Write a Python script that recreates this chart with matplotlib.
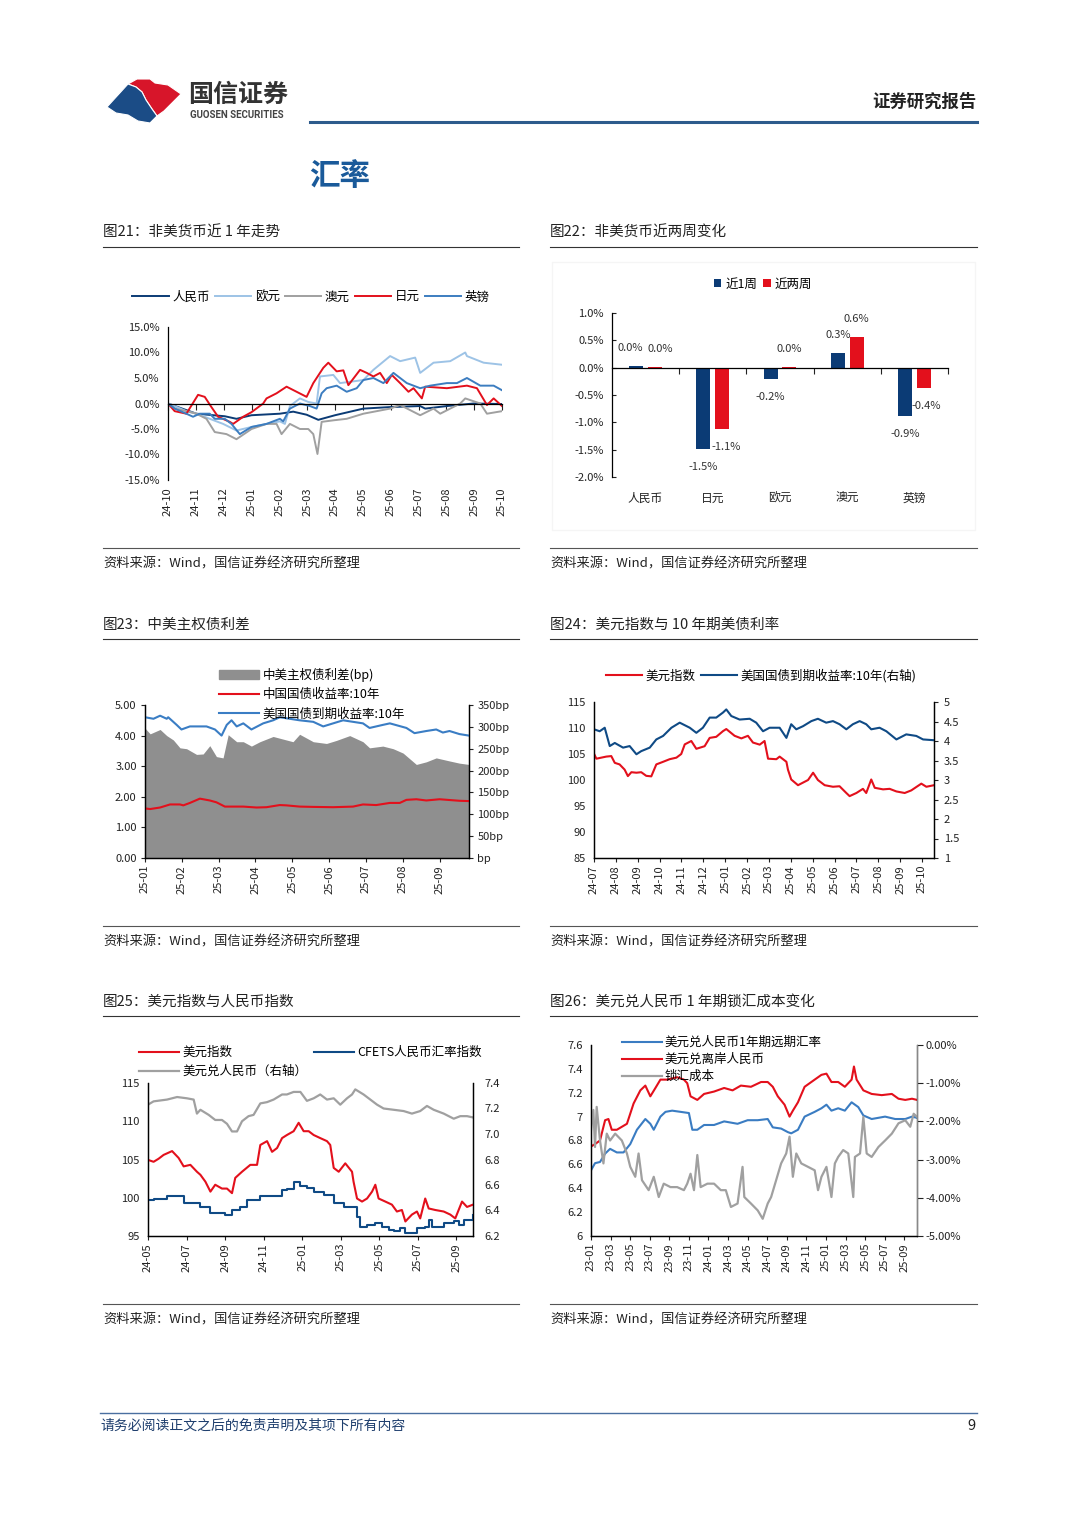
import numpy as np
import matplotlib
matplotlib.use('Agg')
import matplotlib.pyplot as plt
from matplotlib.patches import Polygon, Rectangle, Patch
from matplotlib.lines import Line2D

plt.rcParams['font.family'] = ['Noto Sans CJK SC', 'DejaVu Sans']
plt.rcParams['axes.unicode_minus'] = False
plt.rcParams['axes.linewidth'] = 0.9
plt.rcParams['xtick.color'] = '#222222'
plt.rcParams['ytick.color'] = '#222222'

W, H = 1080, 1527
NAVY = '#0b3b75'
LBLUE = '#9dc3e6'
GRAY = '#a0a0a0'
RED = '#e3101c'
MBLUE = '#3c7dc0'
TXT = '#222222'

# ---------------- data ----------------
# chart 21: non-USD currencies, % change, x = months since 2024-10
c21_ticks = ['24-10', '24-11', '24-12', '25-01', '25-02', '25-03', '25-04',
             '25-05', '25-06', '25-07', '25-08', '25-09', '25-10']
cny_t = [0, 1.02, 2.04, 2.46, 3.0, 4.02, 4.5, 4.98, 5.4, 6.0, 7.02, 7.98, 9.06, 9.24, 9.4, 10.02, 10.98, 12]
cny_v = [0, -2.0, -2.5, -3.0, -2.3, -2.0, -1.6, -2.2, -3.2, -2.3, -1.0, -0.7, -0.5, -1.0, -0.9, -0.5, 0.0, -0.1]
eur_t = [0, 0.24, 0.66, 1.02, 1.5, 1.98, 2.46, 3.0, 3.54, 4.02, 4.2, 4.38, 4.74, 5.04, 5.34, 5.46, 5.94,
         6.18, 7.02, 7.38, 7.98, 8.34, 8.88, 9.06, 9.54, 10.14, 10.68, 10.74, 11.34, 12]
eur_v = [0, -0.5, -1.5, -2.0, -3.0, -4.0, -5.3, -4.6, -4.0, -3.5, -4.0, -0.5, 1.0, 0.3, 0.0, 5.3, 5.6,
         4.0, 4.6, 6.6, 9.3, 8.3, 9.0, 6.0, 8.0, 8.3, 10.0, 9.3, 8.0, 7.6]
aud_t = [0, 0.24, 0.66, 1.02, 1.38, 1.68, 2.1, 2.46, 3.0, 3.54, 3.9, 4.08, 4.38, 4.74, 5.04, 5.22, 5.37,
         5.52, 5.94, 6.42, 7.02, 7.98, 8.34, 9.06, 9.54, 9.78, 10.5, 10.68, 11.22, 11.46, 12]
aud_v = [0, -1.0, -1.5, -2.0, -3.0, -5.6, -6.0, -7.0, -5.0, -4.0, -4.0, -6.0, -4.0, -5.0, -5.0, -6.0, -9.9,
         -3.6, -3.3, -3.0, -2.0, -1.0, -0.3, -2.3, -1.0, -2.0, 0.0, 1.0, 0.0, -2.0, -1.5]
jpy_t = [0, 0.24, 0.66, 1.08, 1.32, 1.56, 1.8, 2.22, 2.34, 2.7, 3.0, 3.42, 3.54, 3.9, 4.26, 4.62, 4.98,
         5.22, 5.58, 5.76, 6.06, 6.3, 6.48, 6.9, 7.14, 7.38, 7.62, 7.86, 8.04, 8.34, 8.64, 8.82, 9.12,
         9.24, 10.02, 10.74, 11.1, 11.46, 11.7, 12]
jpy_v = [0, -1.5, -2.0, 1.7, 1.3, -0.7, -2.6, -3.6, -4.0, -2.6, -1.7, 0.0, 1.0, 2.0, 3.3, 2.3, 1.3,
         4.0, 7.0, 8.0, 6.3, 6.5, 3.6, 6.6, 6.0, 5.3, 6.0, 4.0, 5.6, 4.0, 2.3, 3.0, 1.0,
         3.3, 3.0, 3.5, 3.0, -0.3, 1.0, -0.5]
gbp_t = [0, 0.24, 0.66, 0.9, 1.14, 1.5, 1.68, 2.04, 2.28, 2.58, 3.0, 3.54, 4.02, 4.14, 4.38, 4.74, 5.1,
         5.34, 5.52, 5.7, 6.06, 6.42, 6.78, 7.02, 7.38, 7.74, 8.1, 8.58, 9.06, 9.42, 10.02, 10.38,
         10.74, 11.22, 11.7, 12]
gbp_v = [0, -1.0, -2.0, -2.6, -2.0, -2.0, -3.0, -3.0, -4.0, -6.0, -4.6, -4.0, -3.0, -3.5, -1.0, 0.0, -0.5,
         -1.0, 2.0, 3.0, 3.5, 2.3, 3.0, 4.6, 5.0, 4.0, 6.0, 4.0, 3.0, 3.5, 4.0, 4.0,
         5.0, 3.5, 3.5, 2.6]

# chart 22: two-week change
c22_cats = ['人民币', '日元', '欧元', '澳元', '英镑']
chg_1w = [0.03, -1.48, -0.21, 0.27, -0.88]
chg_2w = [0.005, -1.13, 0.01, 0.56, -0.37]
# horizontal nudge of the value labels (points), to mimic the crowded 人民币 pair
lab_dx_1w = [-4, 0, 0, 0, 0]
lab_dx_2w = [4, 3, 0, 0, 2]

# chart 23: China-US spread, x = months since 2025-01
c23_ticks = ['25-01', '25-02', '25-03', '25-04', '25-05', '25-06', '25-07', '25-08', '25-09']
us23_t = [0, 0.23, 0.41, 0.59, 0.63, 0.86, 0.99, 1.22, 1.67, 1.9, 2.08, 2.22, 2.35, 2.49, 2.67, 2.89,
          3.21, 3.48, 3.66, 3.93, 4.2, 4.57, 4.84, 5.11, 5.38, 5.65, 5.92, 6.1, 6.46, 6.65, 7.1, 7.32,
          7.64, 7.91, 8.09, 8.27, 8.54, 8.8]
us23_v = [4.6, 4.55, 4.65, 4.55, 4.6, 4.35, 4.2, 4.3, 4.3, 4.2, 4.0, 4.35, 4.5, 4.3, 4.4, 4.2,
          4.4, 4.5, 4.6, 4.55, 4.5, 4.45, 4.3, 4.4, 4.5, 4.45, 4.4, 4.25, 4.35, 4.4, 4.25, 4.08,
          4.15, 4.2, 4.1, 4.15, 4.05, 4.0]
cn23_t = [0, 0.14, 0.41, 0.68, 0.95, 1.04, 1.22, 1.49, 1.76, 1.94, 2.17, 2.67, 3.03, 3.3, 3.66, 3.84,
          4.2, 4.57, 5.11, 5.65, 5.92, 6.28, 6.65, 6.92, 7.1, 7.37, 7.64, 8.0, 8.54, 8.8]
cn23_v = [1.62, 1.6, 1.65, 1.75, 1.75, 1.72, 1.8, 1.94, 1.88, 1.82, 1.68, 1.68, 1.65, 1.66, 1.73, 1.72,
          1.68, 1.67, 1.66, 1.68, 1.75, 1.73, 1.8, 1.8, 1.9, 1.92, 1.88, 1.92, 1.87, 1.86]
spr_t = [0, 0.14, 0.41, 0.59, 0.77, 0.95, 1.13, 1.4, 1.58, 1.76, 1.94, 2.12, 2.26, 2.49, 2.67, 2.89,
         3.12, 3.48, 3.84, 4.02, 4.2, 4.57, 4.93, 5.2, 5.56, 5.92, 6.1, 6.46, 6.74, 7.01, 7.37, 7.64,
         7.91, 8.27, 8.54, 8.8]
spr_bp = [297, 284, 294, 280, 270, 252, 250, 237, 238, 257, 232, 229, 282, 266, 266, 256,
          266, 278, 270, 266, 283, 266, 262, 269, 280, 266, 252, 256, 250, 240, 214, 220,
          229, 222, 217, 214]

# chart 24: DXY and UST10Y, x = months since 2024-07
c24_ticks = ['24-07', '24-08', '24-09', '24-10', '24-11', '24-12', '25-01', '25-02', '25-03',
             '25-04', '25-05', '25-06', '25-07', '25-08', '25-09', '25-10']
dxy24_t = [0, 0.11, 0.56, 0.79, 0.95, 1.17, 1.40, 1.55, 1.71, 1.94, 2.16, 2.39, 2.62, 2.85, 3.16, 3.46,
           3.77, 3.99, 4.15, 4.45, 4.68, 5.06, 5.29, 5.59, 5.90, 6.05, 6.43, 6.74, 7.04, 7.27, 7.58,
           7.80, 7.96, 8.34, 8.49, 8.80, 8.87, 9.02, 9.33, 9.56, 9.79, 10.02, 10.24, 10.55, 10.93,
           11.23, 11.54, 11.69, 12.00, 12.30, 12.45, 12.68, 12.84, 13.22, 13.52, 13.83, 14.21,
           14.51, 14.97, 15.20, 15.55]
dxy24_v = [105.05, 104.1, 104.5, 104.6, 103.3, 103.0, 102.0, 100.75, 101.5, 101.4, 101.5, 100.8, 100.7,
           103.0, 103.5, 104.0, 104.3, 105.0, 106.85, 107.5, 106.0, 106.5, 108.1, 108.3, 109.4, 109.8,
           108.5, 108.0, 108.5, 107.2, 106.8, 107.5, 104.1, 104.0, 104.5, 103.5, 102.0, 100.1, 99.0,
           99.5, 100.0, 101.4, 100.0, 99.0, 98.7, 98.8, 97.5, 96.9, 97.5, 98.3, 97.5, 100.1, 98.5,
           98.2, 98.3, 97.8, 97.5, 98.0, 99.3, 98.7, 99.0]
ust24_t = [0, 0.26, 0.49, 0.72, 0.95, 1.33, 1.63, 1.94, 2.16, 2.55, 2.85, 3.16, 3.54, 3.92, 4.38, 4.68,
           4.98, 5.29, 5.59, 5.90, 6.05, 6.28, 6.66, 7.12, 7.42, 7.73, 8.03, 8.49, 8.80, 9.02, 9.25,
           9.56, 9.94, 10.24, 10.62, 10.93, 11.23, 11.54, 11.84, 12.15, 12.45, 12.68, 13.06, 13.37,
           13.83, 14.28, 14.74, 15.05, 15.55]
ust24_v = [4.3, 4.25, 4.34, 3.87, 3.95, 3.83, 3.87, 3.66, 3.74, 3.83, 4.04, 4.13, 4.34, 4.47, 4.34, 4.21,
           4.34, 4.6, 4.6, 4.73, 4.81, 4.64, 4.55, 4.57, 4.47, 4.25, 4.34, 4.34, 4.08, 4.43, 4.3,
           4.38, 4.51, 4.57, 4.47, 4.51, 4.43, 4.3, 4.43, 4.51, 4.43, 4.3, 4.34, 4.25,
           4.04, 4.17, 4.13, 4.04, 4.02]

# chart 25: DXY, CFETS, USDCNY, x = months since 2024-05
c25_ticks = ['24-05', '24-07', '24-09', '24-11', '25-01', '25-03', '25-05', '25-07', '25-09']
dxy25_t = [0, 0.29, 0.55, 0.81, 1.25, 1.59, 1.85, 2.20, 2.54, 2.72, 2.98, 3.24, 3.49, 3.84, 4.10, 4.36,
           4.53, 4.88, 5.31, 5.66, 5.83, 6.18, 6.44, 6.70, 6.96, 7.21, 7.56, 7.82, 8.08, 8.34, 8.60,
           8.94, 9.29, 9.46, 9.64, 9.90, 10.24, 10.59, 10.67, 10.85, 11.11, 11.37, 11.63, 11.80,
           11.97, 12.32, 12.66, 12.92, 13.18, 13.36, 13.70, 13.96, 14.13, 14.39, 14.57, 14.91,
           15.35, 15.69, 15.95, 16.30, 16.56, 16.87]
dxy25_v = [104.95, 104.7, 105.1, 105.6, 106.1, 105.2, 104.1, 104.3, 103.4, 103.0, 102.1, 100.8, 101.7,
           101.2, 101.2, 100.6, 102.6, 103.4, 104.3, 104.3, 106.9, 107.4, 106.0, 106.5, 107.8, 108.2,
           108.7, 109.8, 108.7, 108.7, 108.2, 107.8, 107.4, 106.9, 103.9, 103.4, 104.5, 103.4, 102.1,
           99.9, 99.5, 99.9, 100.8, 101.7, 99.9, 99.5, 99.1, 98.2, 98.4, 96.9, 97.8, 98.2, 97.3,
           99.9, 98.6, 98.4, 98.2, 97.8, 97.3, 99.5, 98.8, 99.1]
cfets_t = [0, 0.29, 0.64, 0.99, 1.51, 1.85, 2.37, 2.72, 3.24, 3.75, 4.01, 4.36, 4.79, 5.14, 5.66, 5.83,
           6.61, 6.96, 7.21, 7.56, 7.91, 8.25, 8.60, 9.12, 9.64, 10.16, 10.67, 10.85, 11.02, 11.37,
           11.80, 12.15, 12.49, 12.75, 13.10, 13.36, 13.70, 13.96, 14.39, 14.57, 14.74, 15.35,
           15.87, 16.12, 16.38, 16.87]
cfets_v = [99.7, 99.9, 99.9, 100.2, 100.2, 99.3, 99.3, 98.8, 98.0, 98.0, 97.75, 98.4, 98.8, 99.7, 99.7,
           100.2, 100.2, 101.0, 101.2, 102.1, 101.5, 101.3, 100.8, 100.4, 99.3, 98.8, 98.8, 97.5, 96.2,
           96.4, 96.7, 96.2, 95.8, 95.6, 96.0, 95.35, 95.35, 96.0, 96.2, 97.1, 96.2, 96.7,
           96.9, 96.4, 97.1, 97.75]
usdcny_t = [0, 0.29, 0.99, 1.51, 2.02, 2.37, 2.54, 2.72, 3.15, 3.49, 3.84, 4.10, 4.36, 4.62, 4.88, 5.22,
            5.48, 5.83, 6.18, 6.52, 6.96, 7.21, 7.56, 7.91, 8.25, 8.60, 8.94, 9.29, 9.64, 9.98, 10.33,
            10.59, 10.76, 11.19, 11.54, 11.89, 12.23, 12.75, 13.27, 13.70, 14.13, 14.48, 14.83,
            15.35, 15.87, 16.21, 16.56, 16.87]
usdcny_v = [7.23, 7.256, 7.27, 7.29, 7.28, 7.27, 7.16, 7.19, 7.15, 7.11, 7.11, 7.08, 7.02, 7.02, 7.10,
            7.14, 7.15, 7.24, 7.25, 7.27, 7.31, 7.31, 7.33, 7.33, 7.26, 7.28, 7.31, 7.27, 7.28, 7.23,
            7.28, 7.31, 7.35, 7.31, 7.27, 7.23, 7.20, 7.19, 7.18, 7.16, 7.18, 7.22, 7.19,
            7.16, 7.12, 7.14, 7.14, 7.13]

# chart 26: forward, CNH, hedging cost, x = months since 2023-01
c26_ticks = ['23-01', '23-03', '23-05', '23-07', '23-09', '23-11', '24-01', '24-03', '24-05',
             '24-07', '24-09', '24-11', '25-01', '25-03', '25-05', '25-07', '25-09']
fwd_t = [0, 0.41, 0.92, 1.44, 1.95, 2.64, 3.32, 4.01, 4.69, 5.55, 6.06, 6.41, 7.09, 7.61, 8.29, 9.15,
         10.0, 10.35, 10.86, 11.55, 12.57, 13.60, 14.97, 16.0, 17.03, 18.05, 18.57, 19.42, 20.11,
         20.45, 21.14, 21.82, 22.85, 23.54, 24.05, 24.56, 25.25, 25.93, 26.62, 27.30, 27.82, 28.67,
         30.04, 31.07, 32.10, 32.79, 33.30]
fwd_v = [6.55, 6.61, 6.62, 6.69, 6.73, 6.70, 6.70, 6.77, 6.89, 6.98, 6.94, 6.89, 7.0, 7.04, 7.05, 7.04,
         7.03, 6.89, 6.89, 6.93, 6.93, 6.96, 6.94, 6.97, 6.97, 6.98, 6.91, 6.90, 6.87,
         6.86, 6.89, 7.0, 7.04, 7.07, 7.10, 7.05, 7.07, 7.05, 7.12, 7.08, 7.01, 6.98,
         7.0, 6.98, 6.98, 7.0, 6.99]
cnh_t = [0, 0.41, 0.92, 1.44, 1.78, 2.12, 2.64, 3.67, 4.35, 5.04, 5.55, 6.06, 6.58, 7.09, 7.78, 8.80,
         9.49, 9.83, 10.17, 10.86, 11.55, 12.57, 13.60, 14.46, 15.31, 16.34, 17.37, 18.05, 18.57,
         19.08, 19.77, 20.28, 20.62, 21.14, 21.82, 22.85, 23.54, 24.05, 24.56, 25.25, 25.93, 26.62,
         26.86, 27.13, 27.82, 28.67, 29.70, 30.73, 31.41, 32.10, 32.79, 33.30]
cnh_v = [6.75, 6.77, 6.80, 6.97, 6.98, 6.89, 6.89, 6.94, 7.11, 7.22, 7.26, 7.17, 7.24, 7.31, 7.31, 7.33,
         7.31, 7.28, 7.17, 7.14, 7.19, 7.21, 7.24, 7.22, 7.26, 7.25, 7.29, 7.29, 7.25,
         7.17, 7.10, 7.0, 7.05, 7.12, 7.25, 7.31, 7.35, 7.36, 7.29, 7.29, 7.25, 7.31,
         7.42, 7.31, 7.22, 7.19, 7.18, 7.19, 7.15, 7.14, 7.15, 7.14]
cost_t = [0, 0.24, 0.41, 0.58, 0.92, 1.27, 1.61, 1.95, 2.47, 3.15, 3.67, 4.01, 4.52, 4.86, 5.21, 5.89,
          6.41, 6.92, 7.43, 8.12, 8.80, 9.49, 9.83, 10.17, 10.52, 10.86, 11.20, 11.89, 12.57, 13.26,
          13.77, 14.29, 14.97, 15.48, 15.66, 16.34, 17.03, 17.54, 18.05, 18.40, 18.91, 19.42, 19.94,
          20.28, 20.62, 20.97, 21.48, 22.17, 22.85, 23.19, 23.54, 24.05, 24.56, 24.91, 25.25, 25.76,
          26.28, 26.79, 26.96, 27.48, 27.82, 28.16, 28.67, 29.36, 30.04, 30.73, 31.41, 32.10, 32.61,
          32.96, 33.30]
cost_v = [-2.23, -1.7, -2.67, -1.62, -2.5, -3.1, -2.32, -2.5, -2.32, -2.5, -2.84, -3.19, -3.45, -2.84,
          -3.54, -3.8, -3.45, -3.98, -3.63, -3.72, -3.72, -3.8, -3.63, -3.37, -3.8, -2.88, -3.72, -3.63,
          -3.63, -3.8, -3.8, -4.24, -4.15, -3.19, -3.98, -4.15, -4.33, -4.55, -4.15, -3.98, -3.54, -3.1,
          -2.84, -2.4, -3.45, -2.84, -3.1, -3.19, -3.28, -3.8, -3.45, -3.19, -3.98, -3.1, -2.93, -2.75,
          -2.84, -3.98, -2.93, -2.84, -1.88, -2.84, -2.93, -2.67, -2.5, -2.32, -2.05, -1.97, -2.14,
          -1.8, -1.88]

# ---------------- page ----------------
fig = plt.figure(figsize=(W / 100, H / 100), dpi=100)


def px_axes(x0, y0, x1, y1):
    return fig.add_axes([x0 / W, 1 - y1 / H, (x1 - x0) / W, (y1 - y0) / H])


def ftext(x, y, s, **kw):
    fig.text(x / W, 1 - y / H, s, **kw)


def fline(x0, x1, y, **kw):
    fig.add_artist(Line2D([x0 / W, x1 / W], [1 - y / H, 1 - y / H], **kw))


def fpoly(pts, **kw):
    fig.add_artist(Polygon([(x / W, 1 - y / H) for x, y in pts], closed=True, **kw))


def legend_at(ax, handles, labels, x, y, loc, **kw):
    ax.legend(handles, labels, loc=loc, bbox_to_anchor=(x / W, 1 - y / H),
              bbox_transform=fig.transFigure, frameon=False, fontsize=9,
              borderpad=0, borderaxespad=0, **kw)


def month_labels(ax, ticks, step=1):
    ax.set_xticks(np.arange(len(ticks)) * step)
    ax.set_xticklabels(ticks, rotation=90, fontsize=8)
    ax.tick_params(axis='x', length=3, width=0.8, pad=2)


# logo
fpoly([(128, 84), (137, 79), (150, 79), (155, 83), (168, 85), (181, 94), (164, 111),
       (157, 116), (152, 109), (146, 100), (142, 92), (136, 87)], facecolor='#d7152a',
      edgecolor='white', linewidth=0.8)
fpoly([(107, 107), (128, 84), (136, 87), (142, 92), (146, 100), (152, 109), (157, 116),
       (150, 123), (138, 121), (128, 115), (116, 113)], facecolor='#1b4c86',
      edgecolor='white', linewidth=0.8)
ftext(188, 95, '国信证券', fontsize=18, fontweight='bold', color='#333333', va='center')
ftext(190, 115, 'GUOSEN SECURITIES', fontsize=7, fontweight='bold', color='#444444',
      va='center', family=['Roboto', 'DejaVu Sans'])
ftext(977, 102, '证券研究报告', fontsize=12.5, fontweight='bold', color='#222222',
      va='center', ha='right')
fline(310, 977, 122, color='#2d5b8c', linewidth=2.2)
ftext(309, 176, '汇率', fontsize=22, fontweight='bold', color='#1a5a9a', va='center')

# titles / sources
titles = [(103, 233, '图21：非美货币近 1 年走势'), (550, 233, '图22：非美货币近两周变化'),
          (103, 625, '图23：中美主权债利差'), (550, 625, '图24：美元指数与 10 年期美债利率'),
          (103, 1002, '图25：美元指数与人民币指数'), (550, 1002, '图26：美元兑人民币 1 年期锁汇成本变化')]
for x, y, s in titles:
    ftext(x, y, s, fontsize=10.5, color=TXT, va='center')
    fline(x, x + 416 if x < 500 else 977, y + 14, color='#333333', linewidth=0.8)
for y in (548, 926, 1304):
    for x0, x1 in ((103, 519), (550, 977)):
        fline(x0, x1, y, color='#555555', linewidth=0.8)
        ftext(x0, y + 16, '资料来源：Wind，国信证券经济研究所整理', fontsize=9.5, color=TXT, va='center')

# footer
fline(100, 977, 1413, color='#4a6fa0', linewidth=1.0)
ftext(100, 1426, '请务必阅读正文之后的免责声明及其项下所有内容', fontsize=10, color='#1f3f6e',
      va='center', style='italic')
ftext(976, 1426, '9', fontsize=10.5, color=TXT, va='center', ha='right')

# ---------------- chart 21 ----------------
ax = px_axes(168, 327, 502, 480)
for t, v, c, lab in [(cny_t, cny_v, NAVY, '人民币'), (eur_t, eur_v, LBLUE, '欧元'),
                     (aud_t, aud_v, GRAY, '澳元'), (jpy_t, jpy_v, RED, '日元'),
                     (gbp_t, gbp_v, MBLUE, '英镑')]:
    ax.plot(t, v, color=c, lw=1.4, label=lab)
ax.set_xlim(0, 12)
ax.set_ylim(-15, 15)
ax.set_yticks(np.arange(-15, 16, 5))
ax.set_yticklabels(['%.1f%%' % v for v in np.arange(-15, 16, 5)], fontsize=8)
ax.tick_params(axis='y', length=0, pad=6)
for s in ('top', 'right'):
    ax.spines[s].set_visible(False)
ax.spines['bottom'].set_position(('data', 0))
ax.set_xticks(range(13))
ax.tick_params(axis='x', length=4, width=0.8, labelbottom=False)
for i, lab in enumerate(c21_ticks):
    ax.text(i, -0.05, lab, transform=ax.get_xaxis_transform(), rotation=90,
            ha='center', va='top', fontsize=8, color=TXT)
h, l = ax.get_legend_handles_labels()
legend_at(ax, h, l, 311, 297, 'center', ncol=5, handlelength=2.9, columnspacing=0.4,
          handletextpad=0.3)

# ---------------- chart 22 ----------------
fig.add_artist(Rectangle((552 / W, 1 - 530 / H), 423 / W, 268 / H, fill=False,
                         edgecolor='#f5f5f5', linewidth=1))
ax = px_axes(612, 313, 948, 477)
xi = np.arange(len(c22_cats))
b1 = ax.bar(xi - 0.14, chg_1w, width=0.21, color=NAVY, label='近1周')
b2 = ax.bar(xi + 0.14, chg_2w, width=0.21, color=RED, label='近两周')
for bars, vals, dxs in ((b1, chg_1w, lab_dx_1w), (b2, chg_2w, lab_dx_2w)):
    for b, v, dx in zip(bars, vals, dxs):
        ax.annotate('%.1f%%' % v, (b.get_x() + b.get_width() / 2, v),
                    xytext=(dx, 13 if v >= 0 else -13), textcoords='offset points',
                    ha='center', va='center', fontsize=8, color='#333333')
ax.set_xlim(-0.5, 4.5)
ax.set_ylim(-2, 1)
ax.set_yticks(np.arange(-2, 1.01, 0.5))
ax.set_yticklabels(['%.1f%%' % v for v in np.arange(-2, 1.01, 0.5)], fontsize=8)
ax.tick_params(axis='y', direction='in', length=3, pad=6)
for s in ('top', 'right'):
    ax.spines[s].set_visible(False)
ax.spines['bottom'].set_position(('data', 0))
ax.set_xticks(np.arange(0.5, 5, 1))
ax.tick_params(axis='x', length=4, width=0.8, labelbottom=False)
for i, lab in enumerate(c22_cats):
    ax.text(i, -0.13, lab, transform=ax.get_xaxis_transform(), ha='center', va='center',
            fontsize=8.5, color=TXT)
legend_at(ax, [b1, b2], ['近1周', '近两周'], 763, 284, 'center', ncol=2, handlelength=0.6,
          handleheight=0.6, columnspacing=0.5, handletextpad=0.3)

# ---------------- chart 23 ----------------
ax = px_axes(145, 705, 469, 858)
ax2 = ax.twinx()
ax2.fill_between(spr_t, 0, spr_bp, color='#8f8f8f', linewidth=0)
ax2.set_ylim(0, 350)
ax2.set_yticks(np.arange(0, 351, 50))
ax2.set_yticklabels(['bp'] + ['%dbp' % v for v in range(50, 351, 50)], fontsize=8)
ax2.tick_params(axis='y', length=3, pad=3)
l1, = ax.plot(cn23_t, cn23_v, color=RED, lw=1.5)
l2, = ax.plot(us23_t, us23_v, color='#3a7dc4', lw=1.5)
ax.set_zorder(ax2.get_zorder() + 1)
ax.patch.set_visible(False)
ax.set_xlim(0, 8.8)
ax.set_ylim(0, 5)
ax.set_yticks(np.arange(0, 5.01, 1))
ax.set_yticklabels(['%.2f' % v for v in np.arange(0, 5.01, 1)], fontsize=8)
ax.tick_params(axis='y', length=3, pad=3)
month_labels(ax, c23_ticks)
for a in (ax, ax2):
    a.spines['top'].set_visible(False)
legend_at(ax, [Patch(color='#8f8f8f'), l1, l2],
          ['中美主权债利差(bp)', '中国国债收益率:10年', '美国国债到期收益率:10年'],
          219, 668, 'upper left', handlelength=3.2, labelspacing=0.5, handletextpad=0.3)

# ---------------- chart 24 ----------------
ax = px_axes(594, 702, 934, 858)
ax2 = ax.twinx()
l1, = ax.plot(dxy24_t, dxy24_v, color=RED, lw=1.5)
l2, = ax2.plot(ust24_t, ust24_v, color='#0f4a85', lw=1.5)
ax.set_xlim(0, 15.55)
ax.set_ylim(85, 115)
ax.set_yticks(np.arange(85, 116, 5))
ax.tick_params(axis='y', labelsize=8, length=0, pad=6)
ax2.set_ylim(1, 5)
ax2.set_yticks(np.arange(1, 5.01, 0.5))
ax2.set_yticklabels(['%g' % v for v in np.arange(1, 5.01, 0.5)], fontsize=8)
ax2.tick_params(axis='y', length=3, pad=4)
month_labels(ax, c24_ticks)
for a in (ax, ax2):
    a.spines['top'].set_visible(False)
legend_at(ax, [l1, l2], ['美元指数', '美国国债到期收益率:10年(右轴)'], 761, 676, 'center',
          ncol=2, handlelength=2.9, columnspacing=0.4, handletextpad=0.3)

# ---------------- chart 25 ----------------
ax = px_axes(148, 1083, 473, 1236)
ax2 = ax.twinx()
l3, = ax2.plot(usdcny_t, usdcny_v, color=GRAY, lw=1.6)
l1, = ax.plot(dxy25_t, dxy25_v, color=RED, lw=1.5)
l2, = ax.plot(cfets_t, cfets_v, color='#0f4a85', lw=1.5, drawstyle='steps-post')
ax.set_zorder(ax2.get_zorder() + 1)
ax.patch.set_visible(False)
ax.set_xlim(0, 16.87)
ax.set_ylim(95, 115)
ax.set_yticks(np.arange(95, 116, 5))
ax.tick_params(axis='y', labelsize=8, length=0, pad=6)
ax2.set_ylim(6.2, 7.4)
ax2.set_yticks(np.arange(6.2, 7.41, 0.2))
ax2.set_yticklabels(['%.1f' % v for v in np.arange(6.2, 7.41, 0.2)], fontsize=8)
ax2.tick_params(axis='y', length=0, pad=8)
month_labels(ax, c25_ticks, step=2)
for a in (ax, ax2):
    a.spines['top'].set_visible(False)
legend_at(ax, [l1, l3, l2], ['美元指数', '美元兑人民币（右轴）', 'CFETS人民币汇率指数'],
          139, 1046, 'upper left', ncol=2, handlelength=3.2, columnspacing=0.5,
          labelspacing=0.5, handletextpad=0.3)

# ---------------- chart 26 ----------------
ax = px_axes(591, 1045, 917, 1236)
ax2 = ax.twinx()
l1, = ax.plot(fwd_t, fwd_v, color='#3a7cc2', lw=1.5)
l2, = ax.plot(cnh_t, cnh_v, color=RED, lw=1.5)
l3, = ax2.plot(cost_t, cost_v, color=GRAY, lw=1.6)
ax.set_xlim(0, 33.3)
ax.set_ylim(6, 7.6)
ax.set_yticks(np.arange(6, 7.61, 0.2))
ax.set_yticklabels(['%g' % round(v, 1) for v in np.arange(6, 7.61, 0.2)], fontsize=8)
ax.tick_params(axis='y', length=0, pad=6)
ax2.set_ylim(-5, 0)
ax2.set_yticks(np.arange(-5, 0.01, 1))
ax2.set_yticklabels(['%.2f%%' % v if v < 0 else '0.00%' for v in np.arange(-5, 0.01, 1)], fontsize=8)
ax2.tick_params(axis='y', length=4, pad=2)
ax2.spines['right'].set_color('#888888')
month_labels(ax, c26_ticks, step=2)
for a in (ax, ax2):
    a.spines['top'].set_visible(False)
legend_at(ax, [l1, l2, l3], ['美元兑人民币1年期远期汇率', '美元兑离岸人民币', '锁汇成本'],
          622, 1036, 'upper left', handlelength=3.2, labelspacing=0.33, handletextpad=0.2)

fig.savefig('out.png', dpi=100, facecolor='white')
